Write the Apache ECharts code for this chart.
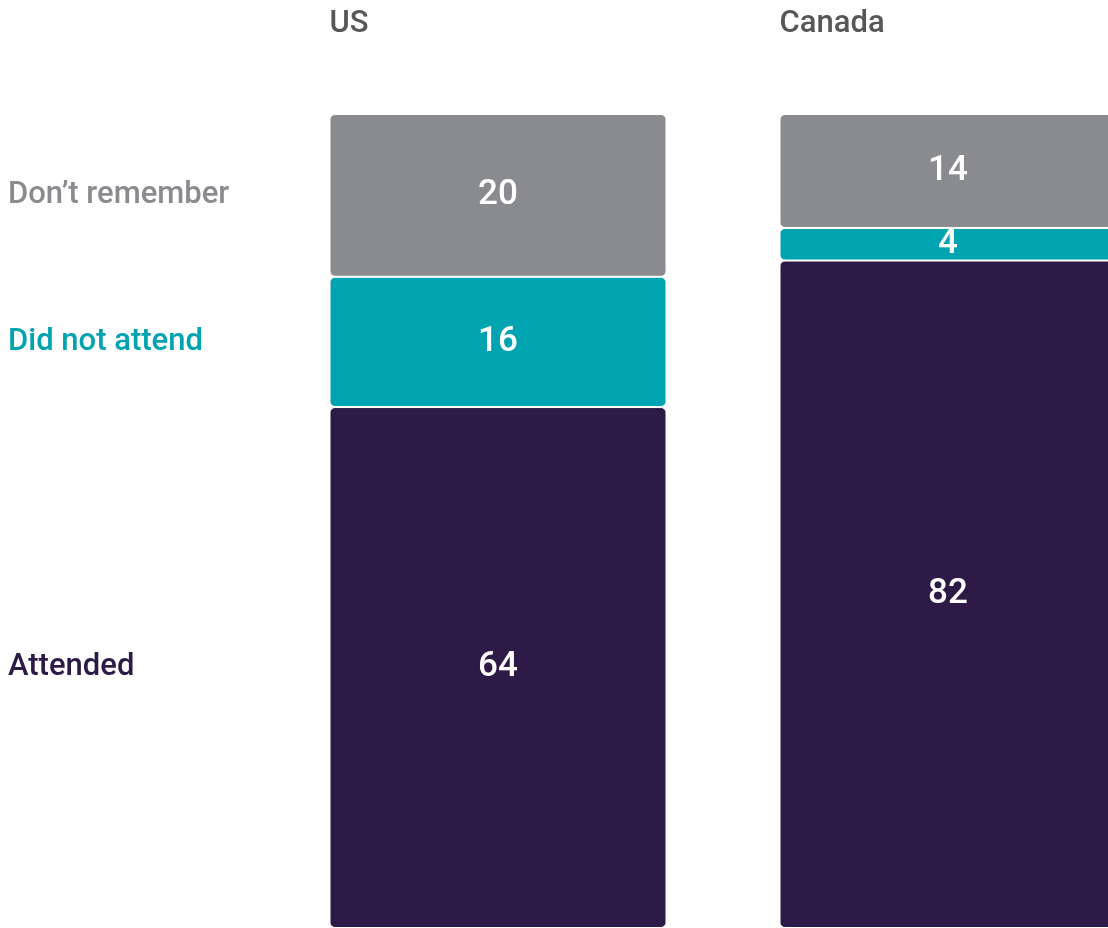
<!DOCTYPE html>
<html>
<head>
<meta charset="utf-8">
<script src="https://cdn.jsdelivr.net/npm/echarts@6/dist/echarts.min.js"></script>
<style>
  html, body { margin: 0; padding: 0; background: #ffffff; }
  #chart { width: 1108px; height: 928px; }
</style>
</head>
<body>
<div id="chart"></div>
<script>
// Share of respondents by attendance, per country (percent)
const categories = ['US', 'Canada'];
const attended = [64, 82];
const didNotAttend = [16, 4];
const dontRemember = [20, 14];
const seriesNames = ['Attended', 'Did not attend', 'Don\u2019t remember'];

const colors = ['#2e1a47', '#00a3b0', '#898b8f'];
const FONT = 'Roboto, "Liberation Sans", sans-serif';
const BAR_W = 337;

const chart = echarts.init(document.getElementById('chart'), null, { renderer: 'canvas' });

function seg(name, data, color) {
  return {
    name: name,
    type: 'bar',
    stack: 'total',
    barWidth: BAR_W,
    data: data,
    itemStyle: { color: color, borderRadius: 5, borderColor: '#ffffff', borderWidth: 1 },
    label: {
      show: true,
      position: 'inside',
      color: '#ffffff',
      fontFamily: FONT,
      fontSize: 35,
      fontWeight: 500
    },
    emphasis: { disabled: true }
  };
}

chart.setOption({
  animation: false,
  // the second bar runs past the right edge of the canvas
  grid: {
    left: 273, width: 900, top: 114, height: 814,
    containLabel: false, outerBoundsMode: 'none'
  },
  xAxis: {
    type: 'category',
    data: categories,
    show: false
  },
  yAxis: { type: 'value', min: 0, max: 100, show: false },
  series: [
    seg(seriesNames[0], attended, colors[0]),
    seg(seriesNames[1], didNotAttend, colors[1]),
    seg(seriesNames[2], dontRemember, colors[2])
  ]
});

// Country headings above each bar, and series names beside the first bar
const graphics = [];
categories.forEach(function (c) {
  const cx = chart.convertToPixel({ xAxisIndex: 0 }, c);
  graphics.push({
    type: 'text',
    x: cx - BAR_W / 2,
    y: 24,
    style: { text: c, fill: '#555759', font: '500 31px ' + FONT, verticalAlign: 'middle' }
  });
});
const usStacks = [attended[0], didNotAttend[0], dontRemember[0]];
let base = 0;
usStacks.forEach(function (v, i) {
  const mid = chart.convertToPixel({ yAxisIndex: 0 }, base + v / 2);
  base += v;
  graphics.push({
    type: 'text',
    x: 8,
    y: mid,
    style: {
      text: seriesNames[i],
      fill: colors[i],
      font: '500 31px ' + FONT,
      verticalAlign: 'middle'
    }
  });
});
chart.setOption({ graphic: graphics });
</script>
</body>
</html>
